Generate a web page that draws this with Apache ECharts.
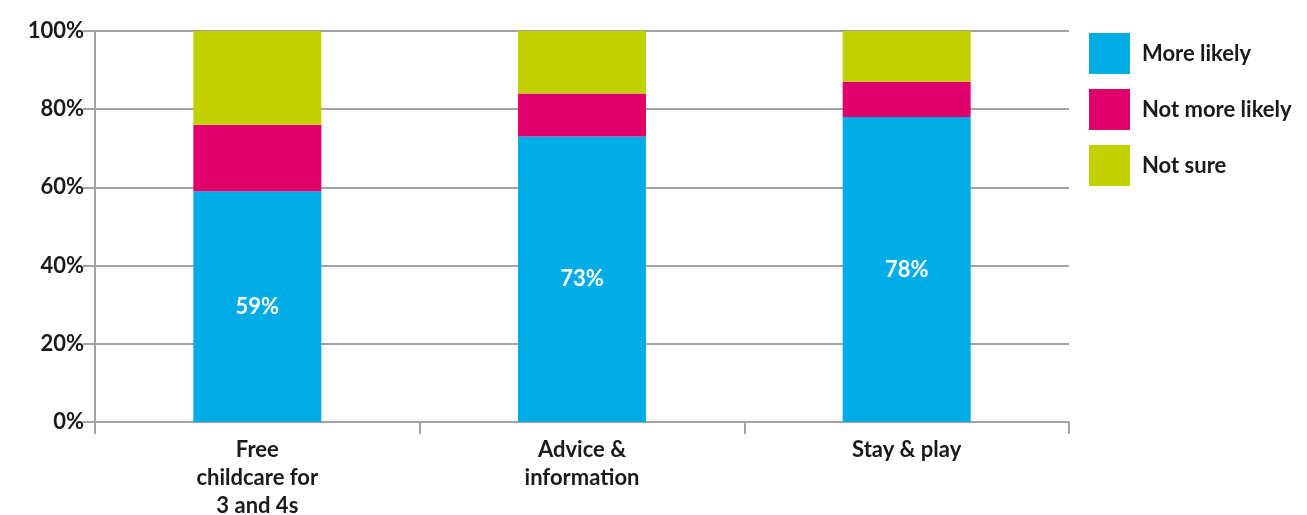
<!DOCTYPE html>
<html>
<head>
<meta charset="utf-8">
<script src="https://cdn.jsdelivr.net/npm/echarts@6/dist/echarts.min.js"></script>
<style>
  html, body { margin: 0; padding: 0; background: #ffffff; }
  #chart { width: 1307px; height: 515px; }
</style>
</head>
<body>
<div id="chart"></div>
<script>
// Share of respondents by service offered
const categories = ['Free\nchildcare for\n3 and 4s', 'Advice &\ninformation', 'Stay & play'];
const moreLikely = [59, 73, 78];
const notMoreLikely = [17, 11, 9];
const notSure = [24, 16, 13];
const yTicks = [0, 20, 40, 60, 80, 100];

const FONT = 'Lato';
const TEXT = '#1a1a1a';
const GRID = '#a3a3a3';

const chart = echarts.init(document.getElementById('chart'), null, { renderer: 'canvas' });

function seg(name, data, color, showLabel) {
  return {
    name: name,
    type: 'bar',
    stack: 'total',
    data: data,
    barWidth: 128,
    itemStyle: { color: color },
    label: {
      show: showLabel,
      position: 'inside',
      color: '#ffffff',
      fontFamily: FONT,
      fontWeight: 'bold',
      fontSize: 22,
      formatter: '{c}%'
    },
    emphasis: { disabled: true }
  };
}

chart.setOption({
  animation: false,
  grid: { left: 95, right: 238, top: 31, bottom: 93, containLabel: false, outerBoundsMode: 'none' },
  legend: {
    orient: 'vertical',
    left: 1089,
    top: 33,
    padding: 0,
    itemWidth: 41,
    itemHeight: 41,
    itemGap: 15,
    icon: 'rect',
    textStyle: { fontFamily: FONT, fontSize: 22, fontWeight: 'bold', color: TEXT, padding: [7, 0, 0, 7] },
    data: ['More likely', 'Not more likely', 'Not sure']
  },
  xAxis: {
    type: 'category',
    data: categories,
    axisLine: { show: true, lineStyle: { color: GRID, width: 2 } },
    axisTick: { show: true, length: 12, lineStyle: { color: GRID, width: 2 } },
    axisLabel: {
      fontFamily: FONT, fontSize: 22, fontWeight: 'bold', color: TEXT,
      lineHeight: 28, margin: 14, interval: 0
    }
  },
  yAxis: {
    type: 'value',
    min: 0,
    max: 100,
    interval: 20,
    axisLine: { show: true, lineStyle: { color: GRID, width: 2 } },
    axisTick: { show: true, length: 12, lineStyle: { color: GRID, width: 2 } },
    splitLine: { show: true, lineStyle: { color: GRID, width: 2 } },
    axisLabel: {
      fontFamily: FONT, fontSize: 22, fontWeight: 'bold', color: TEXT, margin: 11,
      formatter: function (v) { return yTicks.indexOf(v) >= 0 ? v + '%' : ''; }
    }
  },
  series: [
    seg('More likely', moreLikely, '#00ace6', true),
    seg('Not more likely', notMoreLikely, '#e0006b', false),
    seg('Not sure', notSure, '#c1d100', false)
  ]
});
</script>
</body>
</html>
